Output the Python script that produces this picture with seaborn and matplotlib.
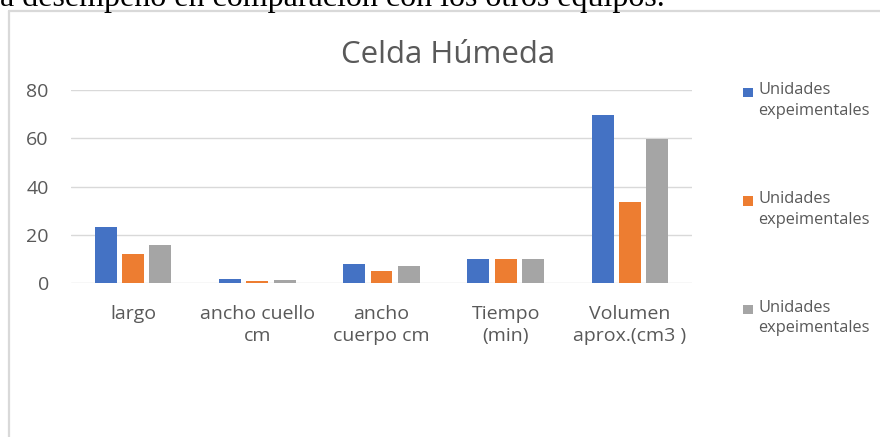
import pandas as pd
import matplotlib.pyplot as plt
import seaborn as sns
from matplotlib.lines import Line2D
from matplotlib.patches import Rectangle

# Data
categories = ["largo", "ancho cuello\ncm", "ancho\ncuerpo cm", "Tiempo\n(min)", "Volumen\naprox.(cm3 )"]
series_keys = ["s1", "s2", "s3"]
series_labels = ["Unidades\nexpeimentales", "Unidades\nexpeimentales", "Unidades\nexpeimentales"]
values_s1 = [23.2, 1.8, 8.0, 10, 69.6]
values_s2 = [12.0, 0.8, 4.9, 10, 33.7]
values_s3 = [15.6, 1.2, 6.9, 10, 59.8]
yticks = [0, 20, 40, 60, 80]

colors = ["#4472C4", "#ED7D31", "#A5A5A5"]
text_color = "#595959"
grid_color = "#D9D9D9"

df = pd.DataFrame({
    "categoria": categories * 3,
    "serie": [k for k in series_keys for _ in categories],
    "valor": values_s1 + values_s2 + values_s3,
})

sns.set_theme(style="white")
plt.rcParams["font.family"] = ["Open Sans", "DejaVu Sans"]

W, H = 880, 437
fig = plt.figure(figsize=(8.8, 4.37), dpi=100, facecolor="white")
ax = fig.add_axes([71 / W, 1 - 283 / H, (692 - 71) / W, (283 - 90) / H])

sns.barplot(
    data=df, x="categoria", y="valor", hue="serie",
    order=categories, hue_order=series_keys, palette=colors, saturation=1,
    width=0.66, gap=0.2, linewidth=0, legend=False, ax=ax,
)

ax.set_ylim(0, 80)
ax.set_yticks(yticks)
ax.set_xlabel("")
ax.set_ylabel("")
for s in ax.spines.values():
    s.set_visible(False)
ax.yaxis.grid(True, color=grid_color, linewidth=1.0)
ax.set_axisbelow(True)
ax.tick_params(axis="y", length=0, pad=16, labelsize=14, labelcolor=text_color)
ax.tick_params(axis="x", length=0, pad=16, labelsize=14, labelcolor=text_color)
for lab in ax.get_xticklabels():
    lab.set_linespacing(1.3)

# title
fig.text(448 / W, 1 - 55 / H, "Celda Húmeda", ha="center", va="center",
         fontsize=22.5, color=text_color)

# legend drawn by hand, square aligned with first text line
for i, (lab, c) in enumerate(zip(series_labels, colors)):
    yc = 92.5 + 108.5 * i
    fig.add_artist(Rectangle((743 / W, 1 - (yc + 4.5) / H), 10 / W, 9 / H,
                             transform=fig.transFigure, facecolor=c, edgecolor="none"))
    fig.text(758 / W, 1 - (yc - 10) / H, lab, ha="left", va="top",
             fontsize=11.8, color=text_color, linespacing=1.4)

# chart frame (left and top edges visible)
fig.add_artist(Line2D([9 / W, 9 / W], [0, 1 - 11 / H], transform=fig.transFigure,
                      color=grid_color, linewidth=1.6))
fig.add_artist(Line2D([9 / W, 1], [1 - 11 / H, 1 - 11 / H], transform=fig.transFigure,
                      color=grid_color, linewidth=1.6))

# document text cut off at the top, as in the source screenshot
fig.text(0, 1 - 6 / H, "a desempeño en comparación con los otros equipos.",
         ha="left", va="baseline", fontsize=23, color="black",
         family=["Liberation Serif", "DejaVu Serif"])

fig.savefig("out.png", dpi=100, facecolor="white")
